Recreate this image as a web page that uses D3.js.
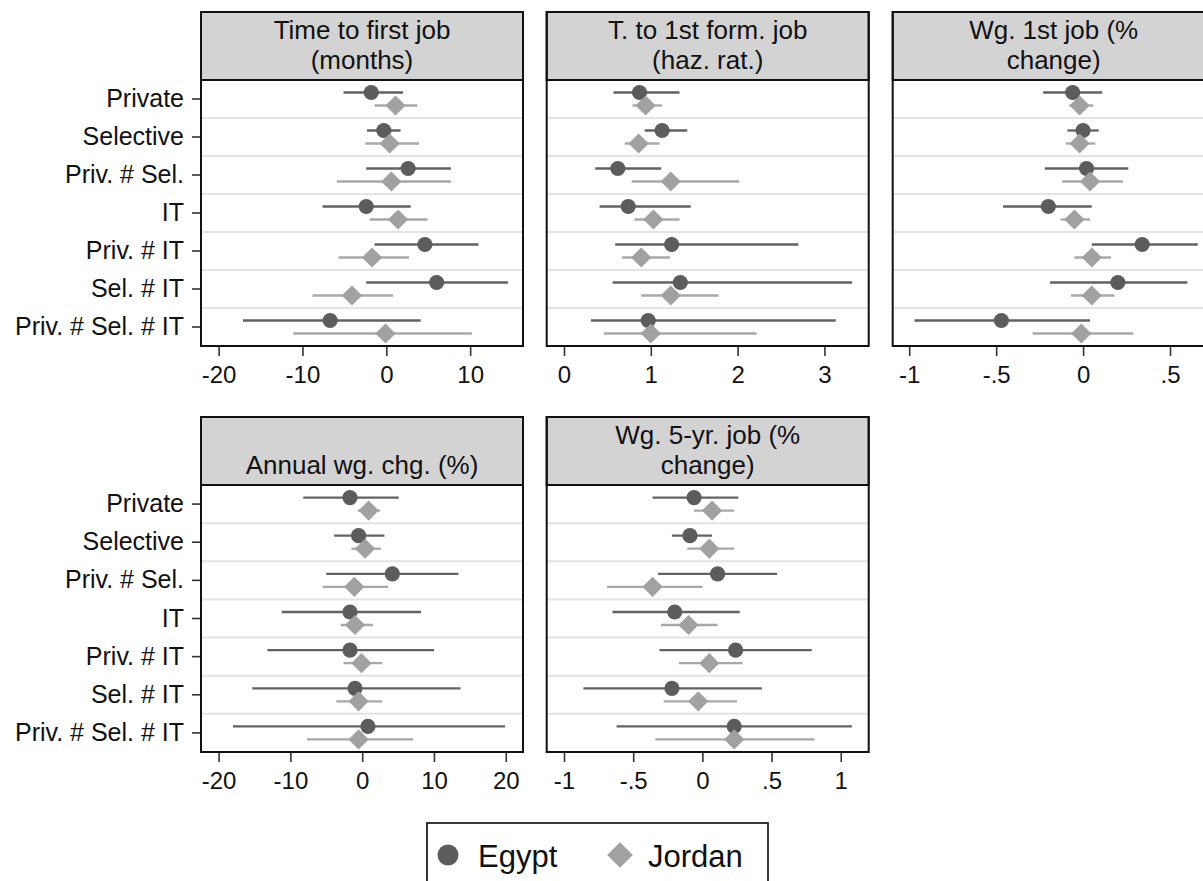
<!DOCTYPE html>
<html>
<head>
<meta charset="utf-8">
<script src="https://cdn.jsdelivr.net/npm/d3@7"></script>
<style>
  body { margin: 0; background: #fff; }
  svg { display: block; font-family: "Liberation Sans", Arial, Helvetica, sans-serif; }
</style>
</head>
<body>
<svg id="chart" width="1203" height="881"></svg>
<script>
const categories = ["Private", "Selective", "Priv. # Sel.", "IT", "Priv. # IT", "Sel. # IT", "Priv. # Sel. # IT"];
const countries = ["Egypt", "Jordan"];

// [estimate, lower CI, upper CI] per category
const firstJobEgypt = [[-1.8, -5.1, 2.0], [-0.3, -2.3, 1.7], [2.6, -2.4, 7.7], [-2.4, -7.6, 2.9], [4.6, -1.4, 11.0], [6.0, -2.4, 14.5], [-6.7, -17.1, 4.1]];
const firstJobJordan = [[1.1, -1.4, 3.7], [0.4, -2.5, 3.9], [0.6, -5.9, 7.7], [1.4, -2.0, 4.9], [-1.7, -5.7, 2.7], [-4.1, -8.8, 0.8], [-0.1, -11.1, 10.2]];

const formalJobEgypt = [[0.87, 0.57, 1.33], [1.13, 0.93, 1.42], [0.62, 0.36, 1.12], [0.74, 0.41, 1.46], [1.24, 0.59, 2.70], [1.34, 0.56, 3.32], [0.97, 0.31, 3.13]];
const formalJobJordan = [[0.94, 0.79, 1.13], [0.86, 0.70, 1.10], [1.23, 0.78, 2.02], [1.03, 0.81, 1.33], [0.89, 0.67, 1.22], [1.23, 0.89, 1.78], [1.00, 0.46, 2.22]];

const wageFirstEgypt = [[-0.06, -0.23, 0.11], [0.00, -0.09, 0.09], [0.02, -0.22, 0.26], [-0.20, -0.46, 0.05], [0.34, 0.05, 0.66], [0.20, -0.19, 0.60], [-0.47, -0.97, 0.04]];
const wageFirstJordan = [[-0.02, -0.08, 0.06], [-0.02, -0.10, 0.07], [0.04, -0.12, 0.23], [-0.05, -0.13, 0.04], [0.05, -0.05, 0.16], [0.05, -0.07, 0.18], [-0.01, -0.29, 0.29]];

const annualWageEgypt = [[-1.7, -8.2, 5.1], [-0.5, -3.9, 3.1], [4.2, -5.0, 13.4], [-1.7, -11.2, 8.2], [-1.7, -13.2, 10.0], [-1.0, -15.3, 13.7], [0.8, -18.0, 19.9]];
const annualWageJordan = [[0.9, -0.6, 2.5], [0.4, -1.5, 2.6], [-1.1, -5.5, 3.6], [-1.0, -3.0, 1.5], [-0.1, -2.6, 2.8], [-0.5, -3.6, 2.8], [-0.5, -7.7, 7.1]];

const wageFiveEgypt = [[-0.06, -0.36, 0.26], [-0.09, -0.22, 0.07], [0.11, -0.32, 0.54], [-0.20, -0.65, 0.27], [0.24, -0.31, 0.79], [-0.22, -0.86, 0.43], [0.23, -0.62, 1.08]];
const wageFiveJordan = [[0.07, -0.06, 0.23], [0.05, -0.11, 0.23], [-0.36, -0.69, 0.00], [-0.10, -0.30, 0.11], [0.05, -0.17, 0.29], [-0.03, -0.28, 0.25], [0.23, -0.34, 0.81]];

const panelTitles = [
  ["Time to first job", "(months)"],
  ["T. to 1st form. job", "(haz. rat.)"],
  ["Wg. 1st job (%", "change)"],
  ["Annual wg. chg. (%)"],
  ["Wg. 5-yr. job (%", "change)"]
];
const panelTicks = [
  [-20, -10, 0, 10],
  [0, 1, 2, 3],
  [-1, -0.5, 0, 0.5],
  [-20, -10, 0, 10, 20],
  [-1, -0.5, 0, 0.5, 1]
];

// layout
const panelW = 322, headerH = 68;
const colX = [201, 546.7, 892.7];
const rows = [{top: 12, bottom: 346}, {top: 417, bottom: 752}];
const colors = {
  Egypt: {marker: "#5c5c5c", line: "#626262"},
  Jordan: {marker: "#a1a1a1", line: "#a8a8a8"}
};
const offsets = {Egypt: -6.5, Jordan: 6.5};

const panels = [
  {title: panelTitles[0], ticks: panelTicks[0], series: [firstJobEgypt, firstJobJordan], domain: [-22.1, 16.3], col: 0, row: 0},
  {title: panelTitles[1], ticks: panelTicks[1], series: [formalJobEgypt, formalJobJordan], domain: [-0.199, 3.51], col: 1, row: 0},
  {title: panelTitles[2], ticks: panelTicks[2], series: [wageFirstEgypt, wageFirstJordan], domain: [-1.095, 0.757], col: 2, row: 0},
  {title: panelTitles[3], ticks: panelTicks[3], series: [annualWageEgypt, annualWageJordan], domain: [-22.45, 22.4], col: 0, row: 1},
  {title: panelTitles[4], ticks: panelTicks[4], series: [wageFiveEgypt, wageFiveJordan], domain: [-1.125, 1.202], col: 1, row: 1}
];

const fmt = d => d === 0 ? "0" : String(d).replace("0.", ".");
const svg = d3.select("#chart");
svg.append("rect").attr("width", 1203).attr("height", 881).attr("fill", "#fff");

const diamond = size => d3.symbol().type(d3.symbolSquare).size(size);

panels.forEach(p => {
  const left = colX[p.col], top = rows[p.row].top, bottom = rows[p.row].bottom;
  const plotTop = top + headerH;
  const g = svg.append("g");

  const x = d3.scaleLinear().domain(p.domain).range([left, left + panelW]);
  const y = d3.scaleBand().domain(categories).range([plotTop, bottom]);

  g.append("rect")
    .attr("x", left).attr("y", plotTop)
    .attr("width", panelW).attr("height", bottom - plotTop)
    .attr("fill", "#fff");

  // row separators
  g.selectAll(".sep")
    .data(categories.slice(1))
    .join("line")
    .attr("x1", left).attr("x2", left + panelW)
    .attr("y1", d => y(d)).attr("y2", d => y(d))
    .attr("stroke", "#e3e3e3").attr("stroke-width", 2);

  // x axis
  const xa = g.append("g")
    .attr("transform", "translate(0," + bottom + ")")
    .call(d3.axisBottom(x).tickValues(p.ticks).tickFormat(fmt).tickSize(10).tickPadding(10));
  xa.select(".domain").remove();
  xa.selectAll("line").attr("stroke", "#333").attr("stroke-width", 1.6);
  xa.selectAll("text").attr("font-size", 24).attr("fill", "#111").attr("font-family", null);

  // y axis only on the left column
  if (p.col === 0) {
    const ya = g.append("g")
      .attr("transform", "translate(" + left + ",0)")
      .call(d3.axisLeft(y).tickSize(9).tickPadding(8));
    ya.select(".domain").remove();
    ya.selectAll("line").attr("stroke", "#333").attr("stroke-width", 1.6);
    ya.selectAll("text").attr("font-size", 25).attr("fill", "#111").attr("font-family", null);
  }

  // estimates with CIs
  countries.forEach((c, si) => {
    const data = p.series[si];
    const yc = (d, i) => y(categories[i]) + y.bandwidth() / 2 + offsets[c];
    g.selectAll(".ci-" + c)
      .data(data)
      .join("line")
      .attr("x1", d => x(d[1])).attr("x2", d => x(d[2]))
      .attr("y1", yc).attr("y2", yc)
      .attr("stroke", colors[c].line).attr("stroke-width", 2.3);
    if (c === "Egypt") {
      g.selectAll(".pt-" + c)
        .data(data)
        .join("circle")
        .attr("cx", d => x(d[0])).attr("cy", yc)
        .attr("r", 7.6)
        .attr("fill", colors[c].marker);
    } else {
      g.selectAll(".pt-" + c)
        .data(data)
        .join("path")
        .attr("d", diamond(205))
        .attr("transform", (d, i) => "translate(" + x(d[0]) + "," + yc(d, i) + ") rotate(45)")
        .attr("fill", colors[c].marker);
    }
  });

  // header strip
  g.append("rect")
    .attr("x", left).attr("y", top)
    .attr("width", panelW).attr("height", headerH)
    .attr("fill", "#d3d3d3").attr("stroke", "#111").attr("stroke-width", 2);
  // wrapped title, bottom-aligned
  const lines = p.title;
  g.selectAll(".title")
    .data(lines)
    .join("text")
    .attr("x", left + panelW / 2)
    .attr("y", (d, i) => top + 56.5 - (lines.length - 1 - i) * 29.2)
    .attr("text-anchor", "middle")
    .attr("font-size", 26)
    .attr("fill", "#111")
    .text(d => d);

  // border
  g.append("rect")
    .attr("x", left).attr("y", top)
    .attr("width", panelW).attr("height", bottom - top)
    .attr("fill", "none").attr("stroke", "#111").attr("stroke-width", 2);
});

// legend
const lg = svg.append("g");
lg.append("rect")
  .attr("x", 427).attr("y", 823).attr("width", 341).attr("height", 80)
  .attr("fill", "#fff").attr("stroke", "#222").attr("stroke-width", 1.8);
const legendItems = [
  {name: countries[0], mx: 448, tx: 478},
  {name: countries[1], mx: 620, tx: 648}
];
legendItems.forEach(it => {
  if (it.name === "Egypt") {
    lg.append("circle").attr("cx", it.mx).attr("cy", 855).attr("r", 10.5).attr("fill", colors.Egypt.marker);
  } else {
    lg.append("path").attr("d", diamond(330)())
      .attr("transform", "translate(" + it.mx + ",855) rotate(45)")
      .attr("fill", colors.Jordan.marker);
  }
  lg.append("text")
    .attr("x", it.tx).attr("y", 867)
    .attr("font-size", 31).attr("fill", "#111")
    .text(it.name);
});
</script>
</body>
</html>
